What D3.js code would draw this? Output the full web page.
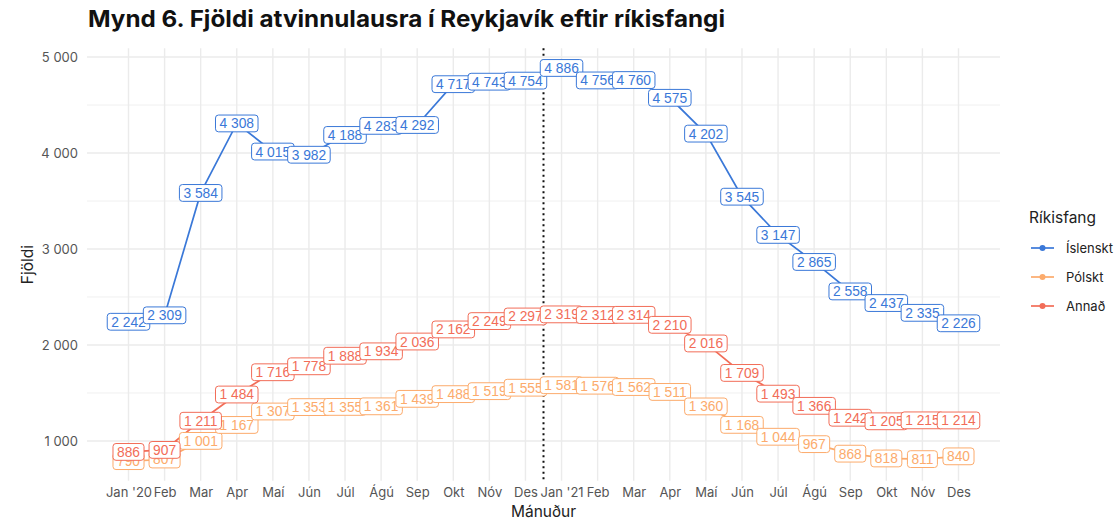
<!DOCTYPE html>
<html><head><meta charset="utf-8">
<script src="https://cdn.jsdelivr.net/npm/d3@7"></script>
<style>
html,body{margin:0;padding:0;background:#fff;}
svg{display:block;}
</style></head>
<body>
<svg id="chart" width="1115" height="521"></svg>
<script>
const months = ["Jan '20","Feb","Mar","Apr","Maí","Jún","Júl","Ágú","Sep","Okt","Nóv","Des",
                "Jan '21","Feb","Mar","Apr","Maí","Jún","Júl","Ágú","Sep","Okt","Nóv","Des"];
const seriesNames = ["Íslenskt","Pólskt","Annað"];
const seriesColors = ["#3a78d8","#fcab6c","#f26d58"];
const islenskt = [2242,2309,3584,4308,4015,3982,4188,4283,4292,4717,4743,4754,
                  4886,4756,4760,4575,4202,3545,3147,2865,2558,2437,2335,2226];
const polskt = [790,807,1001,1167,1307,1353,1355,1361,1439,1488,1519,1555,
                1581,1576,1562,1511,1360,1168,1044,967,868,818,811,840];
const annad = [886,907,1211,1484,1716,1778,1888,1934,2036,2162,2249,2297,
               2319,2312,2314,2210,2016,1709,1493,1366,1242,1205,1215,1214];
const yTicks = [1000,2000,3000,4000,5000];
const yMinorTicks = [1500,2500,3500,4500];
const titleText = "Mynd 6. Fjöldi atvinnulausra í Reykjavík eftir ríkisfangi";
const yTitle = "Fjöldi";
const xTitle = "Mánuður";
const legendTitle = "Ríkisfang";
const splitAfter = 11.5; // between Des '20 and Jan '21

const allSeries = [islenskt, polskt, annad];
const fmt = v => d3.format(",")(v).replace(/,/g, "\u00a0");

const svg = d3.select("#chart");
const panel = {left: 87, right: 1000, top: 48.3, bottom: 480.8};

const n = months.length;
const xExp = (n - 1) * 0.05;
const x = d3.scaleLinear().domain([-xExp, n - 1 + xExp]).range([panel.left, panel.right]);
const allVals = allSeries.flat();
const yMin = d3.min(allVals), yMax = d3.max(allVals);
const ySpan = yMax - yMin;
const y = d3.scaleLinear().domain([yMin - ySpan * 0.05, yMax + ySpan * 0.05]).range([panel.bottom, panel.top]);

const uiFont = "Inter, 'Noto Sans', sans-serif";
const labelFont = "'Liberation Sans', Arial, sans-serif";

// gridlines
const grid = svg.append("g");
grid.selectAll("line.ymin").data(yMinorTicks).join("line")
  .attr("x1", panel.left).attr("x2", panel.right)
  .attr("y1", d => y(d)).attr("y2", d => y(d))
  .attr("stroke", "#eeeeee").attr("stroke-width", 0.9);
grid.selectAll("line.ymaj").data(yTicks).join("line")
  .attr("x1", panel.left).attr("x2", panel.right)
  .attr("y1", d => y(d)).attr("y2", d => y(d))
  .attr("stroke", "#ebebeb").attr("stroke-width", 1.4);
grid.selectAll("line.x").data(d3.range(n)).join("line")
  .attr("x1", d => x(d)).attr("x2", d => x(d))
  .attr("y1", panel.top).attr("y2", panel.bottom)
  .attr("stroke", "#ebebeb").attr("stroke-width", 1.4);

// axes
const yAxis = d3.axisLeft(y).tickValues(yTicks).tickFormat(fmt).tickSize(0).tickPadding(9);
const gy = svg.append("g").attr("transform", `translate(${panel.left},0)`).call(yAxis);
gy.select(".domain").remove();
gy.selectAll("text").attr("font-family", uiFont).attr("font-size", 13).attr("fill", "#555");

const xAxis = d3.axisBottom(x).tickValues(d3.range(n)).tickFormat(i => months[i]).tickSize(0).tickPadding(7);
const gx = svg.append("g").attr("transform", `translate(0,${panel.bottom})`).call(xAxis);
gx.select(".domain").remove();
gx.selectAll("text").attr("font-family", uiFont).attr("font-size", 13).attr("fill", "#555");

// axis titles
svg.append("text").attr("x", (panel.left + panel.right) / 2).attr("y", 517)
  .attr("text-anchor", "middle").attr("font-family", uiFont).attr("font-size", 15.5)
  .attr("fill", "#222").text(xTitle);
svg.append("text").attr("transform", `translate(33,${(panel.top + panel.bottom) / 2}) rotate(-90)`)
  .attr("text-anchor", "middle").attr("font-family", uiFont).attr("font-size", 15.5)
  .attr("fill", "#222").text(yTitle);

// title
svg.append("text").attr("x", 88).attr("y", 27)
  .attr("font-family", uiFont).attr("font-weight", 700).attr("font-size", 23)
  .attr("fill", "#111").attr("textLength", 637).attr("lengthAdjust", "spacingAndGlyphs")
  .text(titleText);

// dotted separator
svg.append("line").attr("x1", x(splitAfter)).attr("x2", x(splitAfter))
  .attr("y1", panel.top).attr("y2", panel.bottom)
  .attr("stroke", "#111").attr("stroke-width", 2).attr("stroke-dasharray", "2,3.5");

// lines and points
const line = d3.line().x((d, i) => x(i)).y(d => y(d));
allSeries.forEach((vals, s) => {
  svg.append("path").datum(vals).attr("d", line)
    .attr("fill", "none").attr("stroke", seriesColors[s]).attr("stroke-width", 1.7);
  svg.append("g").selectAll("circle").data(vals).join("circle")
    .attr("cx", (d, i) => x(i)).attr("cy", d => y(d)).attr("r", 2.5)
    .attr("fill", seriesColors[s]);
});

// labels (drawn in series order, later on top)
const lblSize = 13.8;
allSeries.forEach((vals, s) => {
  const g = svg.append("g");
  vals.forEach((v, i) => {
    const lg = g.append("g").attr("transform", `translate(${x(i)},${y(v)})`);
    const t = lg.append("text").attr("text-anchor", "middle").attr("dy", "0.36em")
      .attr("font-family", labelFont).attr("font-size", lblSize)
      .attr("fill", seriesColors[s]).text(fmt(v));
    const w = t.node().getComputedTextLength();
    lg.insert("rect", "text").attr("x", -w / 2 - 4).attr("y", -8.4)
      .attr("width", w + 8).attr("height", 16.8).attr("rx", 3).attr("ry", 3)
      .attr("fill", "#fff").attr("stroke", seriesColors[s]).attr("stroke-width", 1);
  });
});

// legend
const lg = svg.append("g");
lg.append("text").attr("x", 1029).attr("y", 223).attr("font-family", uiFont)
  .attr("font-size", 15.5).attr("fill", "#222").text(legendTitle);
seriesNames.forEach((name, s) => {
  const yy = 248 + s * 29;
  lg.append("line").attr("x1", 1031).attr("x2", 1054).attr("y1", yy).attr("y2", yy)
    .attr("stroke", seriesColors[s]).attr("stroke-width", 1.7);
  lg.append("circle").attr("cx", 1042.5).attr("cy", yy).attr("r", 3).attr("fill", seriesColors[s]);
  lg.append("text").attr("x", 1066).attr("y", yy).attr("dy", "0.35em")
    .attr("font-family", uiFont).attr("font-size", 13).attr("fill", "#222").text(name);
});
</script>
</body></html>
